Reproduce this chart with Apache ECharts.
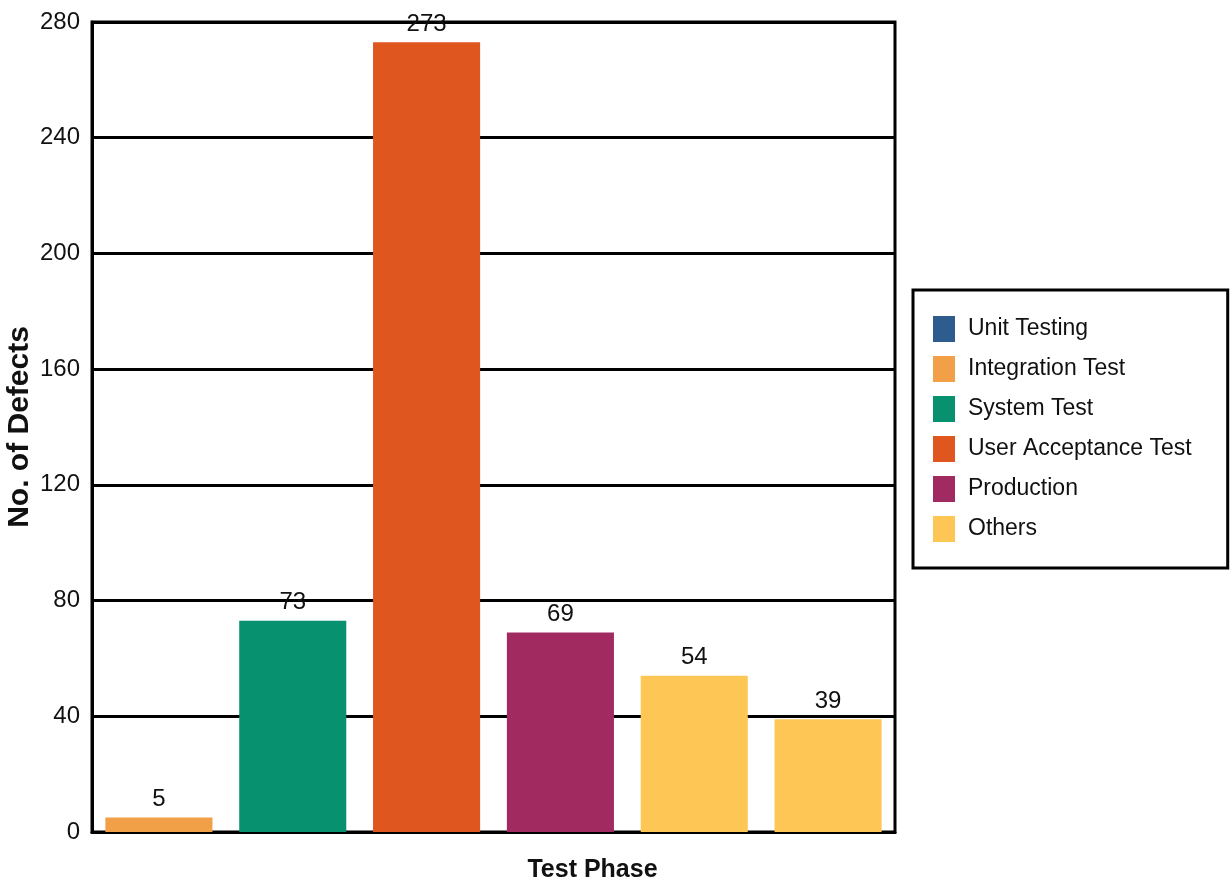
<!DOCTYPE html>
<html>
<head>
<meta charset="utf-8">
<title>Defects by Test Phase</title>
<script src="https://cdn.jsdelivr.net/npm/echarts@6/dist/echarts.min.js"></script>
<style>
html,body{margin:0;padding:0;background:#fff;}
#main{width:1231px;height:888px;}
</style>
</head>
<body>
<div id="main"></div>
<script>
// legend entries and their colours
var phases = ['Unit Testing', 'Integration Test', 'System Test', 'User Acceptance Test', 'Production', 'Others'];
var phaseColors = ['#2f5c8e', '#f2a047', '#07916f', '#e0561f', '#a12b61', '#fdc655'];

// bars, left to right, and which phase each one belongs to
var barSlots = ['b1', 'b2', 'b3', 'b4', 'b5', 'b6'];
var barValues = [5, 73, 273, 69, 54, 39];
var barPhase = [1, 2, 3, 4, 5, 5];

var yTicks = { min: 0, max: 280, interval: 40 };

var txt = '"Liberation Sans", Arial, sans-serif';

var myChart = echarts.init(document.getElementById('main'));

// one stacked series per phase so the legend shows all six
var series = phases.map(function (name, p) {
    var data = barValues.map(function (v, i) {
        return barPhase[i] === p ? v : '-';
    });
    return {
        name: name,
        type: 'bar',
        stack: 'all',
        barWidth: '80%',
        data: data,
        itemStyle: { color: phaseColors[p] },
        label: {
            show: true,
            position: 'top',
            distance: 6,
            color: '#111',
            fontFamily: txt,
            fontSize: 24
        }
    };
});

var option = {
    backgroundColor: '#fff',
    animation: false,
    grid: {
        left: 92,
        right: 336,
        top: 22,
        bottom: 56,
        containLabel: false,
        outerBoundsMode: 'none',
        show: true,
        borderColor: '#000',
        borderWidth: 3
    },
    legend: {
        orient: 'vertical',
        left: 913,
        top: 290,
        data: phases,
        icon: 'rect',
        itemWidth: 22,
        itemHeight: 26,
        itemGap: 14,
        padding: [26, 36, 26, 20],
        borderColor: '#000',
        borderWidth: 3,
        selectedMode: false,
        textStyle: {
            color: '#111',
            fontFamily: txt,
            fontSize: 23,
            padding: [0, 0, 0, 8]
        }
    },
    xAxis: {
        type: 'category',
        data: barSlots,
        name: 'Test Phase',
        nameLocation: 'middle',
        nameGap: 26,
        nameMoveOverlap: false,
        nameTextStyle: {
            color: '#111',
            fontFamily: txt,
            fontWeight: 'bold',
            fontSize: 25,
            padding: [0, 0, 0, 198]
        },
        axisLine: { lineStyle: { color: '#000', width: 3 } },
        axisTick: { show: false },
        axisLabel: { show: false }
    },
    yAxis: {
        type: 'value',
        min: yTicks.min,
        max: yTicks.max,
        interval: yTicks.interval,
        name: 'No. of Defects',
        nameLocation: 'middle',
        nameGap: 57,
        nameMoveOverlap: false,
        nameTextStyle: {
            color: '#111',
            fontFamily: txt,
            fontWeight: 'bold',
            fontSize: 30
        },
        axisLine: { show: true, lineStyle: { color: '#000', width: 3 } },
        axisTick: { show: false },
        axisLabel: {
            color: '#111',
            fontFamily: txt,
            fontSize: 24,
            margin: 12
        },
        splitLine: { lineStyle: { color: '#000', width: 3 } }
    },
    series: series
};

myChart.setOption(option, true);
</script>
</body>
</html>
